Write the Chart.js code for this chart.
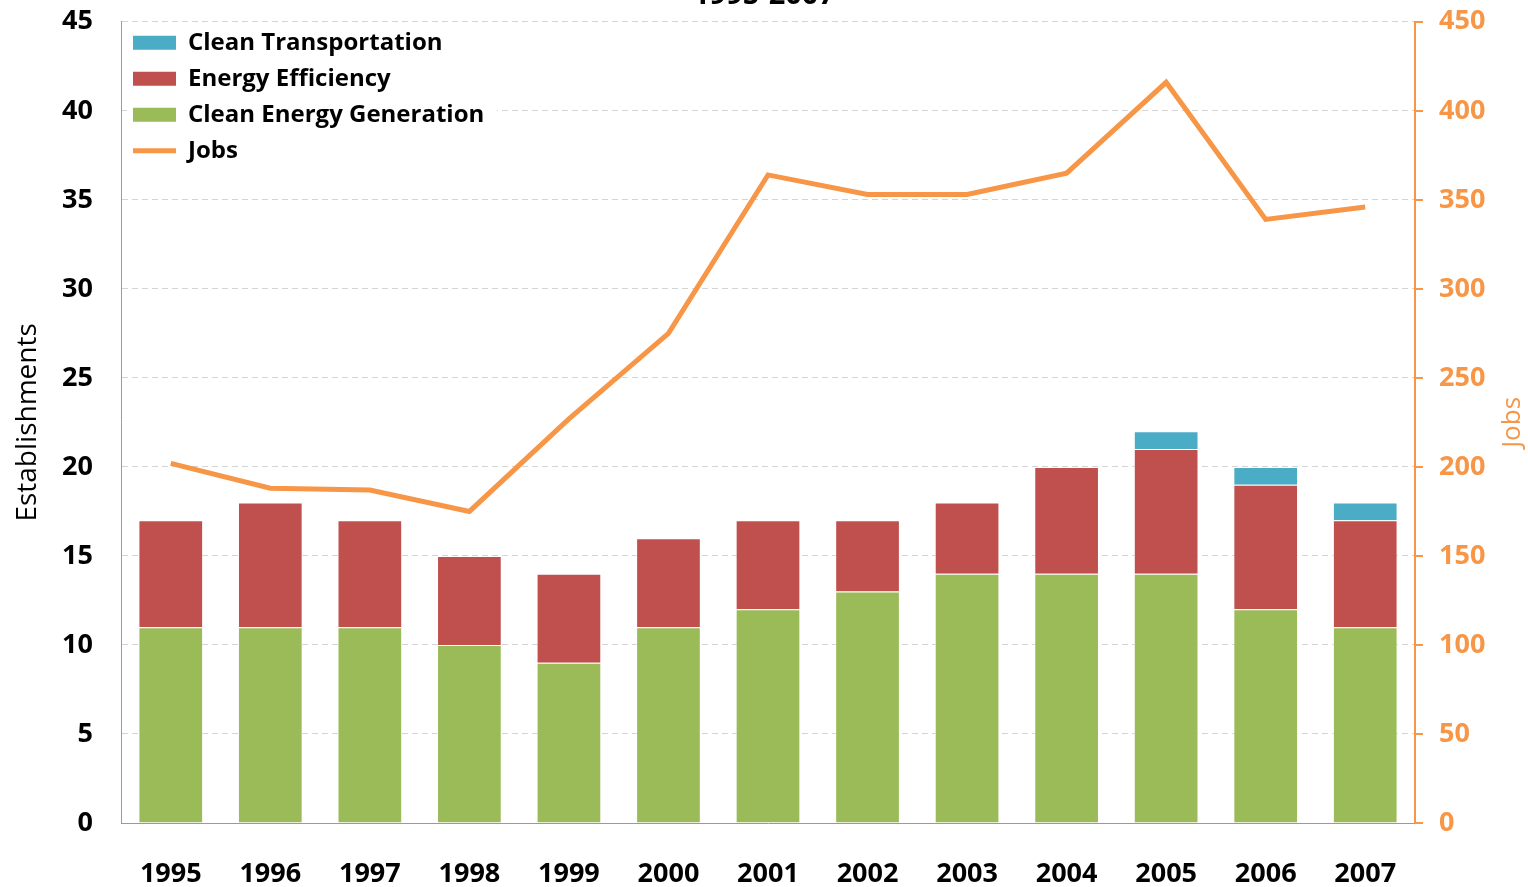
<!DOCTYPE html>
<html>
<head>
<meta charset="utf-8">
<script src="https://cdn.jsdelivr.net/npm/chart.js@4.4.1/dist/chart.umd.min.js"></script>
<style>
    html, body { margin: 0; padding: 0; background: #fff; overflow: hidden; }
    #wrap { position: relative; width: 1528px; height: 887px; overflow: hidden; }
    #chart { position: absolute; left: 0; top: -30px; }
</style>
</head>
<body>
<div id="wrap">
    <canvas id="chart" width="1528" height="917"></canvas>
</div>
<script>
// Chart data
const years = ['1995', '1996', '1997', '1998', '1999', '2000', '2001', '2002', '2003', '2004', '2005', '2006', '2007'];
const cleanEnergyGeneration = [11, 11, 11, 10, 9, 11, 12, 13, 14, 14, 14, 12, 11];
const energyEfficiency = [6, 7, 6, 5, 5, 5, 5, 4, 4, 6, 7, 7, 6];
const cleanTransportation = [0, 0, 0, 0, 0, 0, 0, 0, 0, 0, 1, 1, 1];
const jobs = [202, 188, 187, 175, 227, 275, 364, 353, 353, 365, 416, 339, 346];
const legendOrder = ['Clean Transportation', 'Energy Efficiency', 'Clean Energy Generation', 'Jobs'];

const FONT = '"Open Sans", Lato, sans-serif';
const ORANGE = '#F79646';

// Legend sits inside the plot, top-left, on a white patch that hides the gridlines
const legendInside = {
    id: 'legendInside',
    afterLayout(chart) {
        const lg = chart.legend;
        const a = chart.chartArea;
        const h = lg.height;
        lg.left = a.left;
        lg.right = a.left + lg.width;
        lg.top = a.top - 3;
        lg.bottom = lg.top + h;
    },
    beforeDatasetsDraw(chart) {
        const lg = chart.legend;
        if (!lg) return;
        const ctx = chart.ctx;
        ctx.save();
        ctx.fillStyle = '#fff';
        ctx.fillRect(lg.left + 6, lg.top + 10, 370, 140);
        ctx.restore();
        lg.draw();
    }
};

// Right axis title reads bottom-to-top, like the left one
const rightTitle = {
    id: 'rightTitle',
    afterDraw(chart) {
        const area = chart.chartArea;
        const ctx = chart.ctx;
        ctx.save();
        ctx.translate(1513, (area.top + area.bottom) / 2);
        ctx.rotate(-Math.PI / 2);
        ctx.fillStyle = ORANGE;
        ctx.font = '26px ' + FONT;
        ctx.textAlign = 'center';
        ctx.textBaseline = 'middle';
        ctx.fillText('Jobs', 0, 0);
        ctx.restore();
    }
};

const ctx = document.getElementById('chart').getContext('2d');
new Chart(ctx, {
    type: 'bar',
    data: {
        labels: years,
        datasets: [
            {
                type: 'line',
                label: 'Jobs',
                data: jobs,
                yAxisID: 'y1',
                borderColor: ORANGE,
                backgroundColor: ORANGE,
                borderWidth: 5,
                pointRadius: 0,
                tension: 0,
                order: -1
            },
            {
                label: 'Clean Energy Generation',
                data: cleanEnergyGeneration,
                backgroundColor: '#9BBB59',
                borderColor: 'rgba(255,255,255,0.6)',
                borderWidth: 1,
                stack: 's'
            },
            {
                label: 'Energy Efficiency',
                data: energyEfficiency,
                backgroundColor: '#C0504D',
                borderColor: 'rgba(255,255,255,0.6)',
                borderWidth: 1,
                stack: 's'
            },
            {
                label: 'Clean Transportation',
                data: cleanTransportation,
                backgroundColor: '#4BACC6',
                borderColor: 'rgba(255,255,255,0.6)',
                borderWidth: 1,
                stack: 's'
            }
        ]
    },
    options: {
        responsive: false,
        animation: false,
        barPercentage: 0.65,
        categoryPercentage: 1,
        layout: { padding: 0 },
        plugins: {
            title: {
                display: true,
                text: '1995-2007',
                color: '#000',
                font: { family: FONT, size: 29, weight: 'bold' },
                padding: { top: 8, bottom: 9 }
            },
            legend: {
                position: 'chartArea',
                align: 'start',
                labels: {
                    usePointStyle: true,
                    pointStyleWidth: 43,
                    boxHeight: 14,
                    padding: 12,
                    color: '#000',
                    font: { family: FONT, size: 24, weight: 'bold' },
                    generateLabels(chart) {
                        const items = Chart.defaults.plugins.legend.labels.generateLabels(chart);
                        items.forEach(it => {
                            it.pointStyle = it.text === 'Jobs' ? 'line' : 'rect';
                            if (it.text !== 'Jobs') it.lineWidth = 0;
                        });
                        return items;
                    },
                    sort: (a, b) => legendOrder.indexOf(a.text) - legendOrder.indexOf(b.text)
                }
            },
            tooltip: { enabled: false }
        },
        scales: {
            x: {
                stacked: true,
                grid: { display: false, drawTicks: false },
                border: { color: '#9a9a9a', width: 1 },
                ticks: {
                    color: '#000',
                    padding: 35,
                    maxRotation: 0,
                    font: { family: FONT, size: 27, weight: 'bold' }
                },
                afterFit: s => { s.height = 64; }
            },
            y: {
                stacked: true,
                position: 'left',
                min: 0,
                max: 45,
                grid: {
                    color: '#d4d4d4',
                    drawTicks: false
                },
                border: { color: '#9a9a9a', width: 1, dash: [6, 4] },
                ticks: {
                    stepSize: 5,
                    color: '#000',
                    padding: 28,
                    font: { family: FONT, size: 27, weight: 'bold' }
                },
                title: {
                    display: true,
                    text: 'Establishments',
                    color: '#000',
                    font: { family: FONT, size: 28 },
                    padding: { top: 11, bottom: 0 }
                },
                afterFit: s => { s.width = 121; }
            },
            y1: {
                position: 'right',
                min: 0,
                max: 450,
                grid: {
                    drawOnChartArea: false,
                    color: ORANGE,
                    tickLength: 8,
                    lineWidth: 2
                },
                border: { color: ORANGE, width: 2 },
                ticks: {
                    stepSize: 50,
                    color: ORANGE,
                    padding: 16,
                    font: { family: FONT, size: 27, weight: 'bold' }
                },
                afterFit: s => { s.width = 113; }
            }
        }
    },
    plugins: [legendInside, rightTitle]
});
</script>
</body>
</html>
